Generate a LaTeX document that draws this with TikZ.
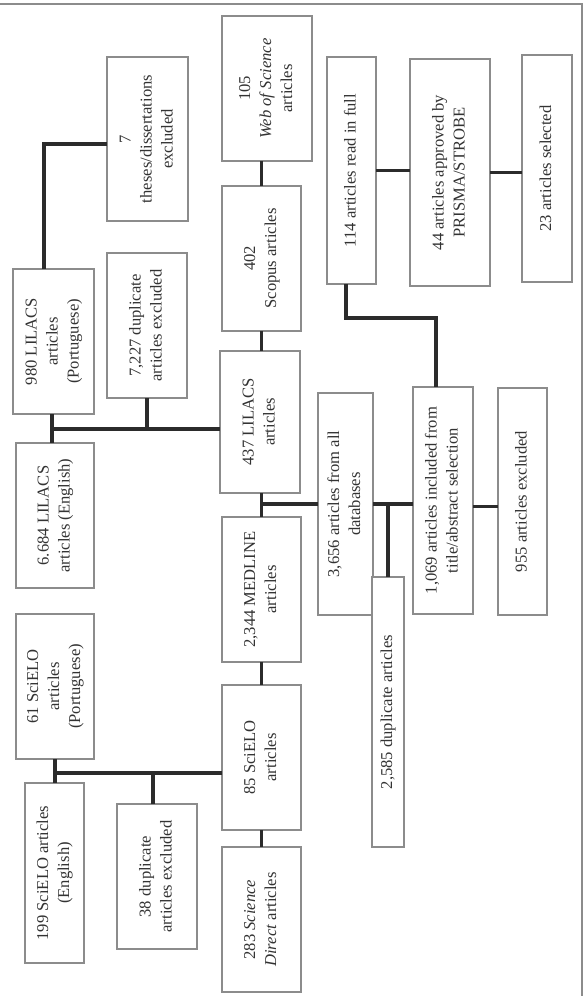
\documentclass[tikz,border=0pt]{standalone}
\usepackage{fontspec}
\setmainfont{Liberation Serif}
\usepackage{graphicx}
\usetikzlibrary{calc}
\definecolor{boxgray}{HTML}{8C8C8C}
\definecolor{linedark}{HTML}{2B2B2B}
\definecolor{textgray}{HTML}{333333}
\newcommand{\vtext}[1]{\rotatebox{90}{\begin{tabular}{@{}c@{}}#1\end{tabular}}}

\begin{document}
\begin{tikzpicture}[
  x=1pt, y=-1pt,
  box/.style={draw=boxgray, line width=1.1pt, fill=white, inner sep=0pt, outer sep=0pt,
              text=textgray, font=\fontsize{16.6}{21}\selectfont},
  link/.style={draw=linedark, line width=3.4pt},
  frame/.style={draw=boxgray, line width=1.4pt}
]
  \useasboundingbox (0,0) rectangle (585,996);
  \draw[frame] (0,4) -- (582,4) -- (582,996);

  \node[box, minimum width=90pt, minimum height=145pt] (wos) at (267,88.5)
    {\vtext{105\\\textit{Web of Science}\\articles}};
  \node[box, minimum width=79pt, minimum height=145pt] (scopus) at (261.5,258.5)
    {\vtext{402\\Scopus articles}};
  \node[box, minimum width=80pt, minimum height=142pt] (lilacs) at (260,422)
    {\vtext{437 LILACS\\articles}};
  \node[box, minimum width=79pt, minimum height=145pt] (medline) at (261.5,589.5)
    {\vtext{2,344 MEDLINE\\articles}};
  \node[box, minimum width=79pt, minimum height=145pt] (scielo) at (261.5,757.5)
    {\vtext{85 SciELO\\articles}};
  \node[box, minimum width=79pt, minimum height=145pt] (scidir) at (261.5,919.5)
    {\vtext{283 \textit{Science}\\\textit{Direct} articles}};

  \node[box, minimum width=81pt, minimum height=164pt] (theses) at (147.5,139)
    {\vtext{7\\theses/dissertations\\excluded}};
  \node[box, minimum width=81pt, minimum height=145pt] (lilpt) at (53.5,341.5)
    {\vtext{980 LILACS\\articles\\(Portuguese)}};
  \node[box, minimum width=80pt, minimum height=145pt] (duplil) at (147,325.5)
    {\vtext{7,227 duplicate\\articles excluded}};
  \node[box, minimum width=78pt, minimum height=145pt] (lilen) at (55,515.5)
    {\vtext{6.684 LILACS\\articles (English)}};
  \node[box, minimum width=78pt, minimum height=145pt] (scipt) at (55,686.5)
    {\vtext{61 SciELO\\articles\\(Portuguese)}};
  \node[box, minimum width=59pt, minimum height=180pt] (scien) at (54.5,873)
    {\vtext{199 SciELO articles\\(English)}};
  \node[box, minimum width=80pt, minimum height=145pt] (dupsci) at (157,876.5)
    {\vtext{38 duplicate\\articles excluded}};

  \node[box, minimum width=55pt, minimum height=222pt] (alldb) at (345.5,504)
    {\vtext{3,656 articles from all\\databases}};
  \node[box, minimum width=32pt, minimum height=270pt] (dupall) at (388,712)
    {\vtext{2,585 duplicate articles}};
  \node[box, minimum width=60pt, minimum height=227pt] (incl) at (443,500.5)
    {\vtext{1,069 articles included from\\title/abstract selection}};
  \node[box, minimum width=49pt, minimum height=227pt] (excl) at (522.5,501.5)
    {\vtext{955 articles excluded}};
  \node[box, minimum width=49pt, minimum height=227pt] (full) at (351.5,170.5)
    {\vtext{114 articles read in full}};
  \node[box, minimum width=80pt, minimum height=227pt] (prisma) at (450,172.5)
    {\vtext{44 articles approved by\\PRISMA/STROBE}};
  \node[box, minimum width=50pt, minimum height=227pt] (sel) at (547,168.5)
    {\vtext{23 articles selected}};

  \coordinate (jlil) at (52,429);
  \coordinate (jsci) at (55,773);
  \coordinate (jfull) at (346,318);

  \draw[link] ([xshift=-9.5pt]lilpt.north) |- ([yshift=-5pt]theses.west);
  \draw[link] (jlil |- lilpt.south) -- (jlil |- lilen.north);
  \draw[link] (jlil) -- (jlil -| lilacs.west);
  \draw[link] (duplil.south) -- (duplil.south |- jlil);

  \draw[link] (scopus.north |- wos.south) -- (scopus.north);
  \draw[link] (scopus.south) -- (scopus.south |- lilacs.north);
  \draw[link] (scopus.south |- lilacs.south) -- (medline.north);
  \draw[link] (medline.south) -- (scielo.north);
  \draw[link] (scielo.south) -- (scidir.north);

  \draw[link] (scopus.south |- alldb.west) -- (alldb.west);
  \draw[link] (alldb.east) -- (alldb.east -| incl.west);
  \draw[link] (dupall.north |- alldb.east) -- (dupall.north);
  \draw[link] ([yshift=-6pt]incl.east) -- ([yshift=-6pt]incl.east -| excl.west);
  \draw[link] ([xshift=-7pt]incl.north) |- (jfull) -- (jfull |- full.south);
  \draw[link] (full.east) -- (full.east -| prisma.west);
  \draw[link] (prisma.east) -- (prisma.east -| sel.west);

  \draw[link] (jsci |- scipt.south) -- (jsci |- scien.north);
  \draw[link] (jsci) -- (jsci -| scielo.west);
  \draw[link] ([xshift=-4pt]dupsci.north) -- ([xshift=-4pt]dupsci.north |- jsci);
\end{tikzpicture}
\end{document}
